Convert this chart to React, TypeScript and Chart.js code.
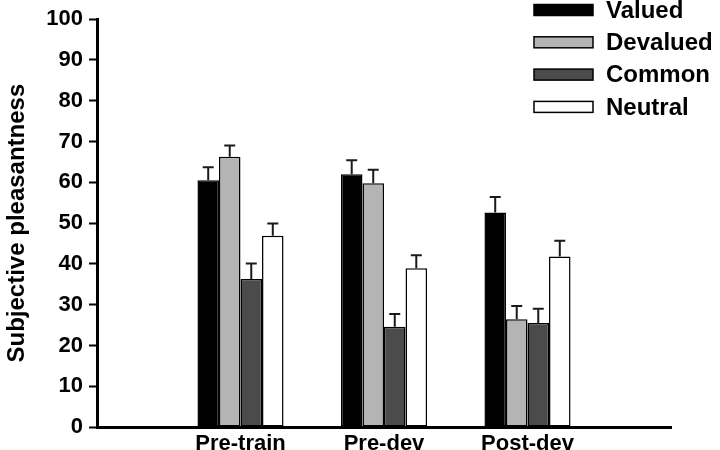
import React, { useEffect, useRef } from "react";
import { Chart, registerables } from "chart.js";

Chart.register(...registerables);

const categories = ["Pre-train", "Pre-dev", "Post-dev"];
const seriesNames = ["Valued", "Devalued", "Common", "Neutral"];
const valued = [60.5, 62.0, 52.6];
const devalued = [66.3, 59.8, 26.4];
const common = [36.3, 24.6, 25.5];
const neutral = [46.9, 38.9, 41.8];
const valuedErr = [3.2, 3.4, 3.8];
const devaluedErr = [2.7, 3.3, 3.3];
const commonErr = [3.8, 3.1, 3.5];
const neutralErr = [3.0, 3.2, 3.9];
const yTicks = [0, 10, 20, 30, 40, 50, 60, 70, 80, 90, 100];

const colors = ["#000000", "#b4b4b4", "#4b4b4b", "#ffffff"];
const FONT = "'Liberation Sans', Arial, sans-serif";

const seriesValues = [valued, devalued, common, neutral];
const seriesErrs = [valuedErr, devaluedErr, commonErr, neutralErr];

const errorBarPlugin = {
  id: "errorBars",
  afterDatasetsDraw(chart: any) {
    const ctx = chart.ctx;
    const yScale = chart.scales.y;
    ctx.save();
    ctx.strokeStyle = "#1a1a1a";
    ctx.lineWidth = 2;
    chart.data.datasets.forEach((ds: any, i: number) => {
      const meta = chart.getDatasetMeta(i);
      meta.data.forEach((el: any, j: number) => {
        const v = ds.data[j];
        const e = ds.errors[j];
        if (v === null || v === undefined || e === null || e === undefined) return;
        const x = el.x;
        const y0 = yScale.getPixelForValue(v);
        const y1 = yScale.getPixelForValue(v + e);
        ctx.beginPath();
        ctx.moveTo(x, y0);
        ctx.lineTo(x, y1);
        ctx.moveTo(x - 5.5, y1);
        ctx.lineTo(x + 5.5, y1);
        ctx.stroke();
      });
    });
    ctx.restore();
  },
};

const legendPlugin = {
  id: "customLegend",
  afterDraw(chart: any) {
    const ctx = chart.ctx;
    const boxX = 534;
    const boxW = 59;
    const boxH = 11;
    const startY = 10;
    const rowGap = 32.3;
    ctx.save();
    ctx.font = `bold 24px ${FONT}`;
    ctx.textBaseline = "middle";
    ctx.textAlign = "left";
    chart.data.datasets.forEach((ds: any, i: number) => {
      const cy = startY + i * rowGap;
      ctx.fillStyle = ds.backgroundColor;
      ctx.fillRect(boxX, cy - boxH / 2, boxW, boxH);
      ctx.strokeStyle = "#000";
      ctx.lineWidth = 1.5;
      ctx.strokeRect(boxX, cy - boxH / 2, boxW, boxH);
      ctx.fillStyle = "#000";
      ctx.fillText(ds.label, 606, cy + 1);
    });
    ctx.restore();
  },
};

export default function App() {
  const canvasRef = useRef<HTMLCanvasElement | null>(null);

  useEffect(() => {
    document.body.style.margin = "0";
    const canvas = canvasRef.current;
    if (!canvas) return;
    const labels = ["", ...categories, ""];
    const datasets = seriesNames.map((name, i) => ({
      label: name,
      data: [null, ...seriesValues[i], null],
      errors: [null, ...seriesErrs[i], null],
      backgroundColor: colors[i],
      borderColor: "#000000",
      borderWidth: 1.5,
      borderSkipped: false,
      categoryPercentage: 0.6,
      barPercentage: 1.0,
    }));
    const chart = new Chart(canvas, {
      type: "bar",
      data: { labels, datasets: datasets as any },
      options: {
        responsive: false,
        animation: false,
        layout: { padding: { left: 0, right: 49, top: 16, bottom: 0 } },
        plugins: {
          legend: { display: false },
          tooltip: { enabled: false },
        },
        scales: {
          x: {
            type: "category",
            offset: false,
            grid: { display: false },
            border: { display: true, color: "#000", width: 3 },
            ticks: {
              color: "#000",
              font: { family: FONT, size: 22, weight: "bold", lineHeight: 1.0 },
              padding: -2,
              maxRotation: 0,
              autoSkip: false,
            },
            afterFit: (scale: any) => {
              scale.height = 23;
            },
          },
          y: {
            type: "linear",
            min: 0,
            max: 100,
            afterBuildTicks: (scale: any) => {
              scale.ticks = yTicks.map((v) => ({ value: v }));
            },
            grid: {
              display: true,
              drawOnChartArea: false,
              drawTicks: true,
              tickLength: 8,
              tickWidth: 2,
              tickColor: "#000",
            },
            border: { display: true, color: "#000", width: 3 },
            ticks: {
              color: "#000",
              font: { family: FONT, size: 22, weight: "bold" },
              padding: 6,
            },
            title: {
              display: true,
              text: "Subjective pleasantness",
              color: "#000",
              font: { family: FONT, size: 24, weight: "bold", lineHeight: 1.2 },
              padding: { top: 3, bottom: 0 },
            },
            afterFit: (scale: any) => {
              scale.width = 97;
            },
          },
        },
      },
      plugins: [errorBarPlugin, legendPlugin],
    });
    return () => chart.destroy();
  }, []);

  return (
    <div style={{ width: 720, height: 450 }}>
      <canvas ref={canvasRef} width={720} height={450} />
    </div>
  );
}
